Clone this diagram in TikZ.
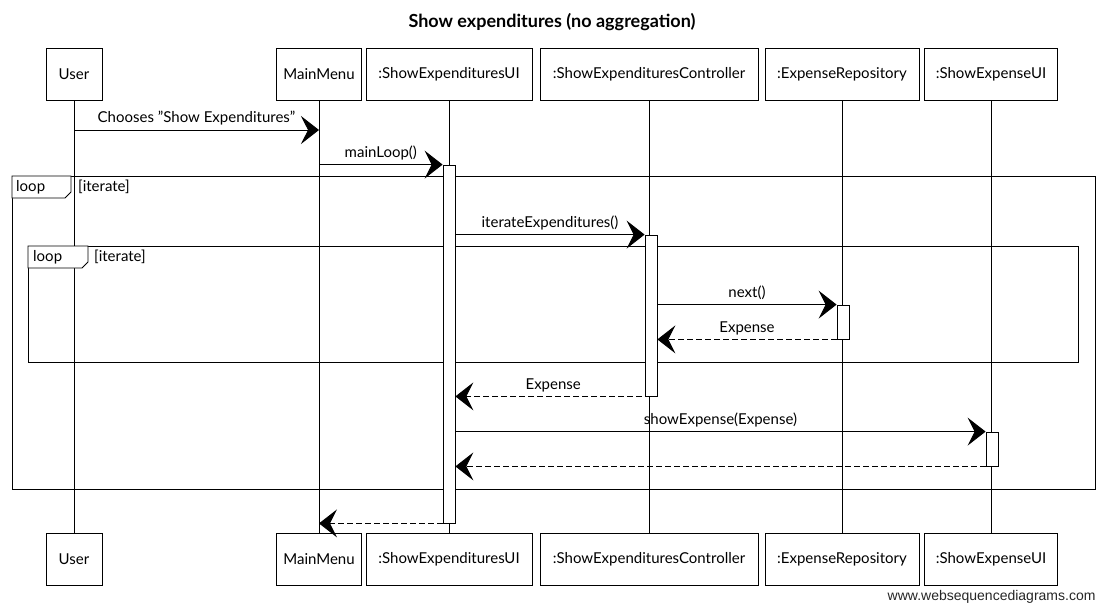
\documentclass[tikz,border=0pt]{standalone}
\usepackage{fontspec}
\setmainfont{Lato}
\setsansfont{Liberation Sans}
\usetikzlibrary{arrows.meta}

\begin{document}
\begin{tikzpicture}[x=1pt,y=-1pt,
  actor/.style={draw,fill=white,line width=0.8pt,minimum height=52pt,inner sep=0pt,font=\fontsize{15}{17}\selectfont},
  actbar/.style={draw,fill=white,line width=0.8pt,minimum width=12pt,inner sep=0pt},
  msg/.style={line width=0.9pt,-{Stealth[length=18pt,width=28pt,inset=7pt]}},
  reply/.style={msg,dash pattern=on 6pt off 3pt},
  lifeline/.style={line width=0.6pt},
  frame/.style={line width=0.8pt},
  lbl/.style={font=\fontsize{15}{17}\selectfont,inner sep=1pt}]

\useasboundingbox (0,0) rectangle (1102,605);

\node[font=\fontsize{18}{20}\selectfont\bfseries] (title) at (552,22) {Show expenditures (no aggregation)};

% participants, top and bottom
\node[actor,minimum width=56pt]  (user) at (74,74) {User};
\node[actor,minimum width=85pt]  (menu) at (319,74) {MainMenu};
\node[actor,minimum width=166pt] (ui)   at (449,74) {:ShowExpendituresUI};
\node[actor,minimum width=218pt] (ctrl) at (649,74) {:ShowExpendituresController};
\node[actor,minimum width=154pt] (repo) at (842,74) {:ExpenseRepository};
\node[actor,minimum width=133pt] (seui) at (991,74) {:ShowExpenseUI};

\node[actor,minimum width=56pt]  (userB) at (74,559) {User};
\node[actor,minimum width=85pt]  (menuB) at (319,559) {MainMenu};
\node[actor,minimum width=166pt] (uiB)   at (449,559) {:ShowExpendituresUI};
\node[actor,minimum width=218pt] (ctrlB) at (649,559) {:ShowExpendituresController};
\node[actor,minimum width=154pt] (repoB) at (842,559) {:ExpenseRepository};
\node[actor,minimum width=133pt] (seuiB) at (991,559) {:ShowExpenseUI};

% loop frames
\draw[frame] (12,176) rectangle (1095,489);
\draw[frame] (28,246) rectangle (1078,362);

% lifelines
\foreach \p in {user,menu,ui,ctrl,repo,seui}
  \draw[lifeline] (\p) -- (\p B);

% frame tags
\draw[frame,fill=white] (12,176) -- (71,176) -- (71,192) -- (65,198) -- (12,198) -- cycle;
\node[lbl,anchor=west] (outertag) at (15,187) {loop};
\node[lbl,anchor=west] (outercond) at (77,187) {[iterate]};
\draw[frame,fill=white] (28,246) -- (88,246) -- (88,262) -- (82,268) -- (28,268) -- cycle;
\node[lbl,anchor=west] (innertag) at (32,257) {loop};
\node[lbl,anchor=west] (innercond) at (93,257) {[iterate]};

% activations
\node[actbar,minimum height=358pt] (uiact)   at (449,344) {};
\node[actbar,minimum height=161pt] (ctrlact) at (651,315.5) {};
\node[actbar,minimum height=34pt]  (repoact) at (843,322) {};
\node[actbar,minimum height=34pt]  (seuiact) at (992,449) {};

% messages
\coordinate (choose) at (0,130);
\draw[msg] (user.south |- choose) -- node[lbl,above=3pt] {Chooses "Show Expenditures"} (menu.south |- choose);
\draw[msg] (menu.south |- uiact.north) -- node[lbl,above=3pt] {mainLoop()} (uiact.north west);
\draw[msg] (uiact.east |- ctrlact.north) -- node[lbl,above=3pt] {iterateExpenditures()} (ctrlact.north west);
\draw[msg] (ctrlact.east |- repoact.north) -- node[lbl,above=3pt] {next()} (repoact.north west);
\draw[reply] (repoact.south west) -- node[lbl,above=3pt] {Expense} (ctrlact.east |- repoact.south);
\draw[reply] (ctrlact.south) -- node[lbl,above=3pt] {Expense} (uiact.east |- ctrlact.south);
\draw[msg] (uiact.east |- seuiact.north) -- node[lbl,above=3pt] {showExpense(Expense)} (seuiact.north west);
\draw[reply] (seuiact.south west) -- (uiact.east |- seuiact.south);
\draw[reply] (uiact.south west) -- (menu.south |- uiact.south);

\node[font=\sffamily\fontsize{14}{16}\selectfont,anchor=east,text=black!85] (credit) at (1099,597) {www.websequencediagrams.com};

\end{tikzpicture}
\end{document}
